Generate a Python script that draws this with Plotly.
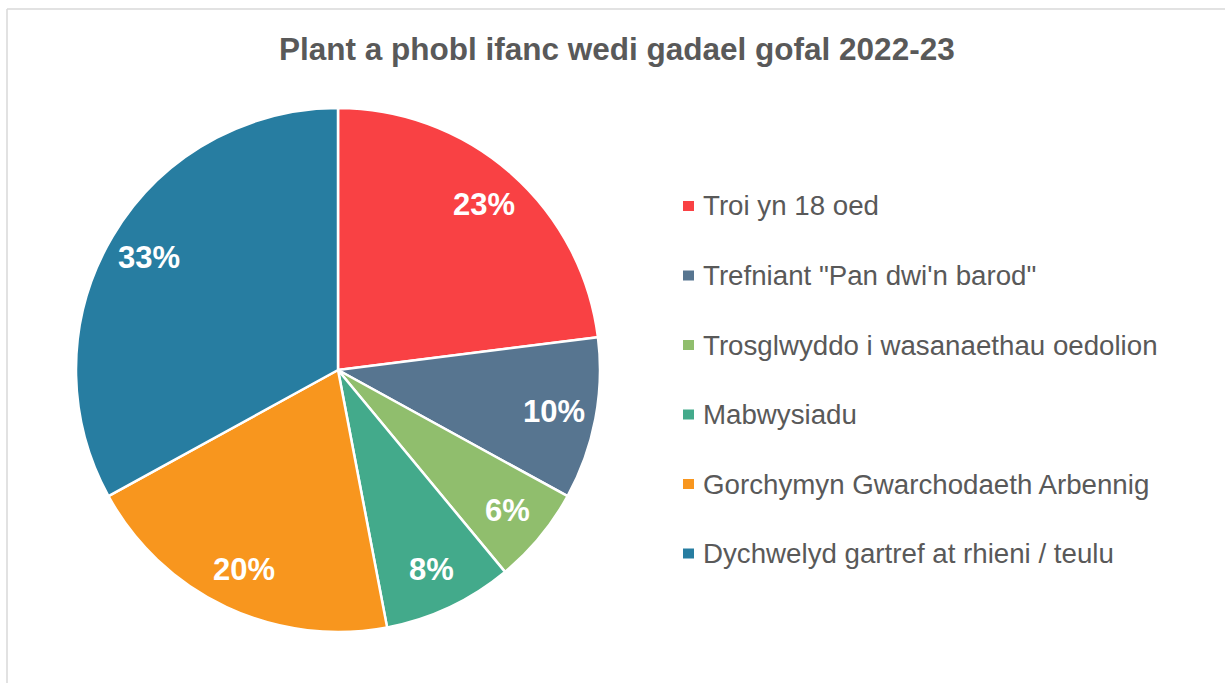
import math
import plotly.graph_objects as go

# data
labels = ['Troi yn 18 oed',
          'Trefniant "Pan dwi\'n barod"',
          'Trosglwyddo i wasanaethau oedolion',
          'Mabwysiadu',
          'Gorchymyn Gwarchodaeth Arbennig',
          'Dychwelyd gartref at rhieni / teulu']
values = [23, 10, 6, 8, 20, 33]
colors = ['#F94144', '#577590', '#90BE6D', '#43AA8B', '#F8961E', '#277DA1']

W, H = 1225, 683
FONT = 'Liberation Sans, Arial, sans-serif'
GREY = '#595959'

# pie placement (pixels)
CX, CY, R = 338, 370, 262

fig = go.Figure(go.Pie(
    labels=labels,
    values=values,
    sort=False,
    direction='clockwise',
    rotation=0,
    marker=dict(colors=colors, line=dict(color='white', width=2.5)),
    textinfo='none',
    hoverinfo='label+percent',
    domain=dict(x=[(CX - R) / W, (CX + R) / W], y=[1 - (CY + R) / H, 1 - (CY - R) / H]),
    showlegend=False,
))

annotations = [dict(text='<b>Plant a phobl ifanc wedi gadael gofal 2022-23</b>',
                    x=617 / W, y=1 - 49 / H, xref='paper', yref='paper',
                    xanchor='center', yanchor='middle', showarrow=False,
                    font=dict(family=FONT, size=31.5, color=GREY))]

# percentage labels placed out towards the rim, like Excel's best fit
total = sum(values)
cum = 0
for v in values:
    mid = (cum + v / 2) / total * 2 * math.pi
    cum += v
    rr = 0.84 * R
    x = CX + rr * math.sin(mid)
    y = CY - rr * math.cos(mid)
    annotations.append(dict(text=f'<b>{v / total * 100:.0f}%</b>', x=x / W, y=1 - y / H,
                            xref='paper', yref='paper', xanchor='center', yanchor='middle',
                            showarrow=False, font=dict(family=FONT, size=31, color='white')))

shapes = [
    # chart frame (top and left edge visible)
    dict(type='line', xref='paper', yref='paper', x0=7 / W, x1=1.01, y0=1 - 9 / H, y1=1 - 9 / H,
         line=dict(color='#D9D9D9', width=1.5)),
    dict(type='line', xref='paper', yref='paper', x0=7 / W, x1=7 / W, y0=1 - 9 / H, y1=-0.01,
         line=dict(color='#D9D9D9', width=1.5)),
]
# legend drawn by hand so the row spacing matches
for i, (lab, col) in enumerate(zip(labels, colors)):
    yc = 206 + i * 69.5
    shapes.append(dict(type='rect', xref='paper', yref='paper',
                       x0=683 / W, x1=694 / W, y0=1 - (yc + 5) / H, y1=1 - (yc - 5) / H,
                       fillcolor=col, line=dict(width=0)))
    annotations.append(dict(text=lab, x=701 / W, y=1 - yc / H, xref='paper', yref='paper',
                            xanchor='left', yanchor='middle', showarrow=False,
                            font=dict(family=FONT, size=27.7, color=GREY)))

fig.update_layout(width=W, height=H,
                  margin=dict(l=0, r=0, t=0, b=0),
                  paper_bgcolor='white',
                  annotations=annotations,
                  shapes=shapes)

fig.write_html("out.html", config={'displayModeBar': False},
               post_script="document.body.style.margin='0';document.body.style.overflow='hidden';")
